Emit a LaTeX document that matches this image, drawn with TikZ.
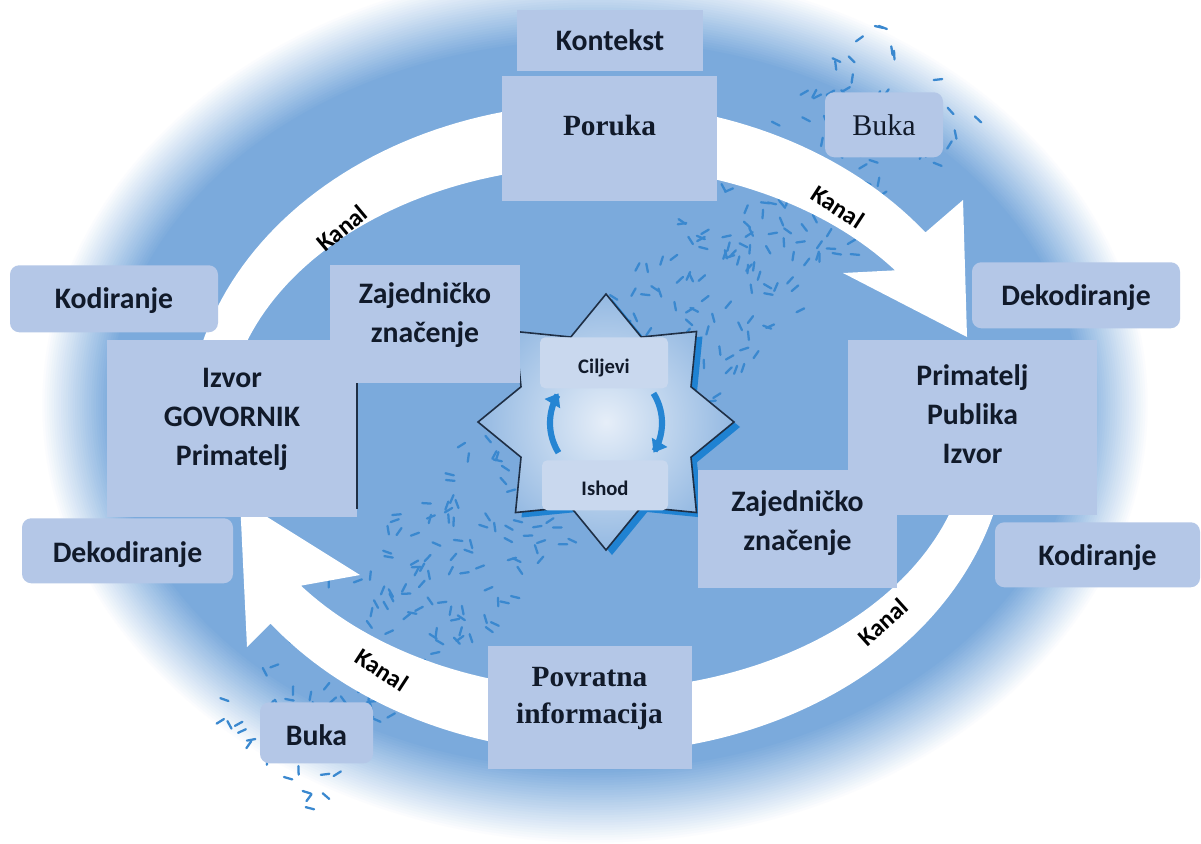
\documentclass[tikz,border=0pt]{standalone}
\usepackage{fontspec}
\newfontfamily\sanslab{Carlito}
\newfontfamily\serlab{Liberation Serif}
\usetikzlibrary{arrows.meta}
\definecolor{bgblue}{HTML}{7BAADC}
\definecolor{boxblue}{HTML}{B4C7E7}
\definecolor{innerbox}{HTML}{C9D8EE}
\definecolor{noiseblue}{HTML}{3A88CF}
\definecolor{starline}{HTML}{1F2F45}
\definecolor{starshadow}{HTML}{1F82D2}
\definecolor{starin}{HTML}{E6EEF8}
\definecolor{starout}{HTML}{94B9E2}
\definecolor{cyclearrow}{HTML}{2585D3}
\definecolor{textdark}{HTML}{111A2A}
\begin{document}
\begin{tikzpicture}[x=0.75pt,y=-0.75pt,
  box/.style={fill=boxblue, anchor=north, inner xsep=0pt, inner ysep=0pt, text=textdark,
    font=\sanslab\bfseries\fontsize{22.3}{29.25}\selectfont},
  rbox/.style={box, rounded corners=7pt},
  serbox/.style={box, font=\serlab\bfseries\fontsize{22}{27.75}\selectfont},
  smallbox/.style={fill=innerbox, anchor=north, inner xsep=0pt, inner ysep=0pt, rounded corners=4pt,
    text=textdark, font=\sanslab\bfseries\fontsize{15.5}{18}\selectfont},
  kanal/.style={text=black, inner sep=0pt, font=\sanslab\bfseries\fontsize{18.5}{20}\selectfont},
  noise/.style={noiseblue, line width=1.7pt, line cap=round},
  cyc/.style={cyclearrow, line width=4.6pt, -{Triangle[length=9pt,width=13pt]}}
]
\useasboundingbox (0,0) rectangle (1201,843);
\fill[white] (0,0) rectangle (1201,843);

% soft background ellipse
\foreach \k in {0,...,30}{
  \pgfmathsetmacro\f{\k/30}
  \pgfmathsetmacro\rx{555-70*\f}
  \pgfmathsetmacro\ry{440-75*\f}
  \pgfmathsetmacro\p{100*\f}
  \fill[bgblue!\p!white] (595,405) ellipse [x radius={\rx*0.75pt}, y radius={\ry*0.75pt}];
}

% noise dashes
\pgfmathsetseed{7}
\foreach \i in {1,...,460}{
  \pgfmathsetmacro\t{rnd}
  \pgfmathsetmacro\o{(rnd-0.5)*150}
  \pgfmathsetmacro\a{rnd*180}
  \pgfmathsetmacro\px{260+670*\t+0.717*\o}
  \pgfmathsetmacro\py{760-690*\t+0.697*\o}
  \draw[noise] ({\px-4.3*cos(\a)},{\py-4.3*sin(\a)}) -- ({\px+4.3*cos(\a)},{\py+4.3*sin(\a)});
}

% white channel arrows
\fill[white] plot[domain=175:323, samples=90, variable=\t] ({598+410*cos(\t)},{428+325*sin(\t)})
  -- (963,200) -- (967,337) -- (843,273)
  -- plot[domain=323:175, samples=90, variable=\t] ({598+372*cos(\t)},{428+262*sin(\t)}) -- cycle;
\fill[white] plot[domain=10:143, samples=90, variable=\t] ({598+410*cos(\t)},{428+325*sin(\t)})
  -- (247,647) -- (240,500) -- (360,575)
  -- plot[domain=143:10, samples=90, variable=\t] ({598+372*cos(\t)},{428+262*sin(\t)}) -- cycle;

% star
\fill[starshadow] plot[samples at={0,22.5,...,337.5}, variable=\a]
  ({612+(110+18*cos(8*\a))*cos(\a)},{427+(110+18*cos(8*\a))*sin(\a)}) -- cycle;
\shade[inner color=starin, outer color=starout, draw=starline, line width=1.2pt]
  plot[samples at={0,22.5,...,337.5}, variable=\a]
  ({606+(110+18*cos(8*\a))*cos(\a)},{422+(110+18*cos(8*\a))*sin(\a)}) -- cycle;

\node[smallbox, minimum width=96pt, text height=27pt, text depth=11.25pt] (cilj) at (604,337) {Ciljevi};
\node[smallbox, minimum width=94.5pt, text height=26.25pt, text depth=11.25pt] (ishod) at (605,460) {Ishod};
\draw[cyc] plot[domain=148:212, samples=30, variable=\t] ({606+56*cos(\t)},{423+56*sin(\t)});
\draw[cyc] plot[domain=328:392, samples=30, variable=\t] ({606+56*cos(\t)},{423+56*sin(\t)});

% boxes
\node[box, minimum width=139.5pt, text height=30pt, text depth=15.75pt] (kontekst) at (610,10) {Kontekst};
\node[serbox, minimum width=161.25pt, text height=44.25pt, text depth=49.5pt] (poruka) at (609.5,76) {Poruka};
\node[rbox, font=\serlab\fontsize{22.5}{27}\selectfont, minimum width=88.5pt, text height=32.25pt, text depth=16.5pt] (bukaT) at (884,92) {Buka};
\node[rbox, minimum width=156pt, text height=32.25pt, text depth=18pt] (kodL) at (114,265) {Kodiranje};
\node[box, minimum width=142.5pt, text height=57.75pt, text depth=30.75pt] (zajL) at (425,265)
  {\begin{tabular}[b]{@{}c@{}}Zajedničko\\značenje\end{tabular}};
\node[box, minimum width=187.5pt, text height=93.75pt, text depth=39pt] (izvor) at (232,340)
  {\begin{tabular}[b]{@{}c@{}}Izvor\\GOVORNIK\\Primatelj\end{tabular}};
\draw[starline, line width=1.4pt] ([yshift=-32.25pt]izvor.north east) -- ([yshift=6.75pt]izvor.south east);
\node[rbox, minimum width=156pt, text height=32.25pt, text depth=17.25pt] (dekR) at (1076,262) {Dekodiranje};
\node[box, minimum width=186.75pt, text height=92.25pt, text depth=39pt] (prim) at (972.5,340)
  {\begin{tabular}[b]{@{}c@{}}Primatelj\\Publika\\Izvor\end{tabular}};
\node[box, minimum width=149.25pt, text height=60pt, text depth=28.5pt] (zajR) at (797.5,470)
  {\begin{tabular}[b]{@{}c@{}}Zajedničko\\značenje\end{tabular}};
\node[rbox, minimum width=153.75pt, text height=32.25pt, text depth=16.5pt] (kodR) at (1097.5,522) {Kodiranje};
\node[rbox, minimum width=158.25pt, text height=33pt, text depth=15.75pt] (dekL) at (127.5,518) {Dekodiranje};
\node[rbox, minimum width=84.75pt, text height=32.25pt, text depth=13.5pt] (bukaL) at (316.5,702) {Buka};
\node[serbox, minimum width=153pt, text height=57.75pt, text depth=34.5pt] (povr) at (589.5,646)
  {\begin{tabular}[b]{@{}c@{}}Povratna\\informacija\end{tabular}};

% channel labels
\node[kanal, rotate=40] (kanalTL) at (342,228) {Kanal};
\node[kanal, rotate=-33] (kanalTR) at (838,207) {Kanal};
\node[kanal, rotate=42] (kanalBR) at (883,622) {Kanal};
\node[kanal, rotate=-33] (kanalBL) at (382,670) {Kanal};
\end{tikzpicture}
\end{document}
